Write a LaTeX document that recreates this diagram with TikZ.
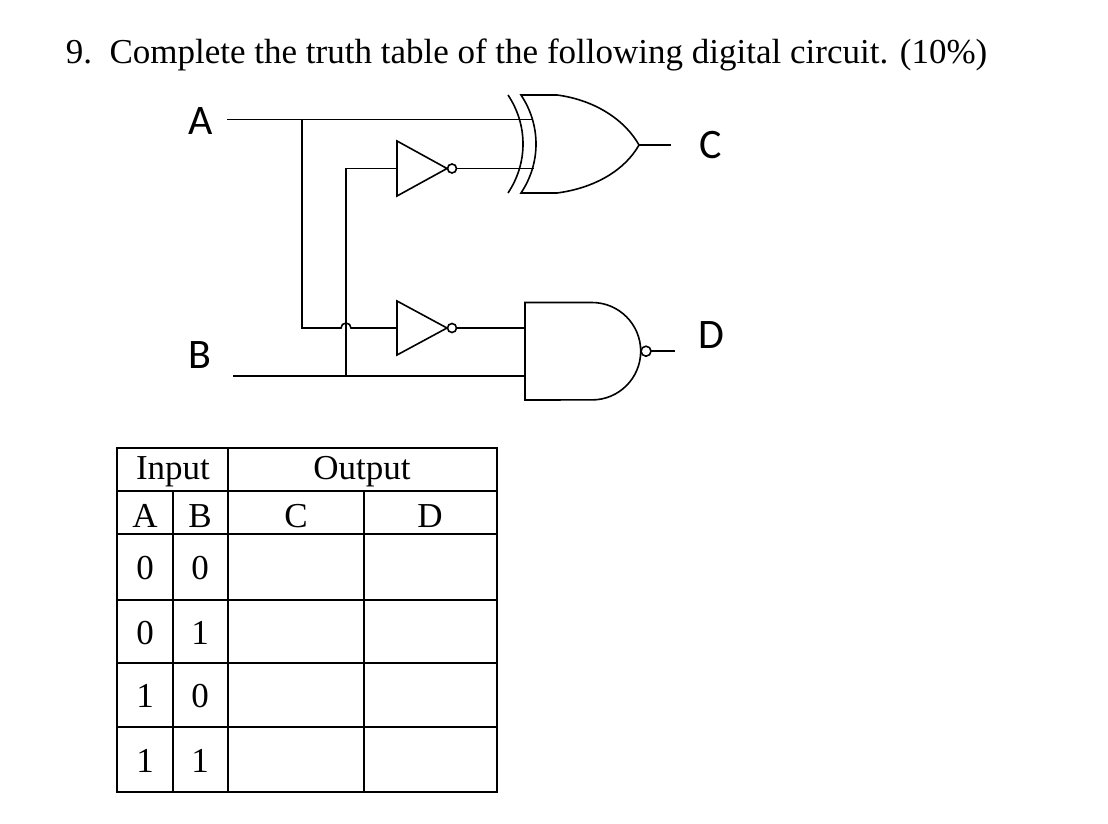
\documentclass[tikz,border=0pt]{standalone}
\usepackage{fontspec}
\setmainfont{Liberation Serif}
\newfontfamily\lbl{Carlito}
\begin{document}
\begin{tikzpicture}[x=1pt,y=-1pt,line width=1.6pt,
  wire/.style={line width=1.6pt},
  tbl/.style={line width=1.6pt},
  io/.style={font=\lbl\fontsize{42}{42}\selectfont},
  cell/.style={font=\fontsize{35}{35}\selectfont}]
\useasboundingbox (0,0) rectangle (1108,824);
\node[anchor=west,font=\fontsize{35}{35}\selectfont,inner sep=0pt] (title) at (65,55) {9.\ \ Complete the truth table of the following digital circuit. (10\%)};
% labels
\node[io] (A) at (201,121) {A};
\node[io] (B) at (200,355) {B};
\node[io] (C) at (711,145) {C};
\node[io] (D) at (711,335) {D};
% coordinates
\coordinate (ain) at (227,119.5);
\coordinate (bin) at (233,376);
\coordinate (ja) at (302,119.5);
\coordinate (jb) at (346,376);
% inverters
\draw (397,141) -- (397,196) -- (447,168.5) -- cycle;
\draw (452,168.5) circle (4.5);
\draw (397,301) -- (397,355) -- (447,328) -- cycle;
\draw (452,328) circle (4.5);
% XOR
\draw (508,95) .. controls (528,125) and (528,163) .. (508,193);
\draw (521,95) -- (557,95) .. controls (595,100) and (625,120) .. (639,145)
  .. controls (625,170) and (595,188) .. (557,193) -- (521,193)
  .. controls (541,163) and (541,125) .. cycle;
\draw (639,145) -- (671,145);
% NAND
\draw (525,302.5) -- (592,302.5) arc (-90:90:48.7) -- (525,400) -- cycle;
\draw (646,351.2) circle (5);
\draw (651,351.2) -- (675,351.2);
% wires
\draw[wire] (ain) -- (ja) -- (533,119.5);
\draw[wire] (ja) -- (302,328) -- (341,328) arc (180:360:5) -- (397,328);
\draw[wire] (bin) -- (jb) -- (525,376);
\draw[wire] (jb) -- (346,168.5) -- (397,168.5);
\draw[wire] (456.5,168.5) -- (534,168.5);
\draw[wire] (456.5,328) -- (525,328);
% table
\draw[tbl] (117,448) rectangle (497,792);
\foreach \y in {491,534,600,663,727} \draw[tbl] (117,\y) -- (497,\y);
\draw[tbl] (228,448) -- (228,792);
\draw[tbl] (173,491) -- (173,792);
\draw[tbl] (364,491) -- (364,792);
\node[cell] (hin) at (173,472) {Input};
\node[cell] (hout) at (362,472) {Output};
\node[cell] (ha) at (145,516) {A};
\node[cell] (hb) at (200,516) {B};
\node[cell] (hc) at (296,516) {C};
\node[cell] (hd) at (430,516) {D};
\foreach \a/\b/\y in {0/0/568,0/1/633,1/0/696,1/1/761}{
  \node[cell] at (145,\y) {\a};
  \node[cell] at (200,\y) {\b};
}
\end{tikzpicture}
\end{document}
